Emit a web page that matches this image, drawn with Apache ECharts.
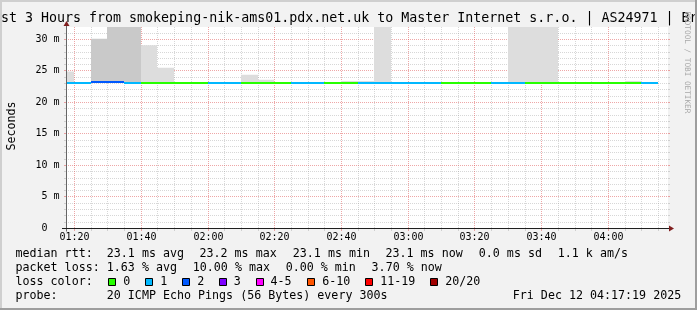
<!DOCTYPE html>
<html>
<head>
<meta charset="utf-8">
<script src="https://cdn.jsdelivr.net/npm/echarts@6/dist/echarts.min.js"></script>
<style>
html,body{margin:0;padding:0;background:#f2f2f2;overflow:hidden}
#chart{width:697px;height:310px}
</style>
</head>
<body>
<div id="chart"></div>
<script>
// ---------------- data ----------------
const titleText = "st 3 Hours from smokeping-nik-ams01.pdx.net.uk to Master Internet s.r.o. | AS24971 | Br";
const yAxisTitle = "Seconds";
const watermark = "RRDTOOL / TOBI OETIKER";

// 5-minute probe intervals (start times)
const intervals = ["01:15","01:20","01:25","01:30","01:35","01:40","01:45","01:50","01:55",
  "02:00","02:05","02:10","02:15","02:20","02:25","02:30","02:35","02:40","02:45","02:50","02:55",
  "03:00","03:05","03:10","03:15","03:20","03:25","03:30","03:35","03:40","03:45","03:50","03:55",
  "04:00","04:05","04:10"];
// median rtt (ms)
const medianMs = [23.1,23.1,23.3,23.2,23.1,23.1,23.1,23.1,23.1,
  23.1,23.1,23.1,23.1,23.1,23.1,23.1,23.1,23.1,23.1,23.1,23.1,
  23.1,23.1,23.1,23.1,23.1,23.1,23.1,23.1,23.1,23.1,23.1,23.1,
  23.1,23.1,23.1];
// lost pings out of 20
const lossCount = [1,1,2,2,1,0,0,0,0,
  1,1,0,0,0,1,1,0,0,1,1,1,
  1,1,0,0,0,1,1,0,0,0,0,0,
  0,0,1];
// smoke (ping spread) upper levels, ms
const smokeDarkTop = [null,null,30.1,36,36,null,null,null,null,
  null,null,null,null,null,null,null,null,null,null,null,null,
  null,null,null,null,null,null,null,null,null,null,null,null,
  null,null,null];
const smokeLightTop = [24.9,null,null,null,null,29.1,25.5,null,null,
  null,null,24.4,23.6,null,null,null,null,23.4,23.4,36,null,
  null,null,null,null,null,null,36,36,36,null,null,null,
  null,23.4,null];

const xMajorTicks = ["01:20","01:40","02:00","02:20","02:40","03:00","03:20","03:40","04:00"];
const xGridTicks = ["01:20","01:25","01:30","01:35","01:40","01:45","01:50","01:55",
  "02:00","02:05","02:10","02:15","02:20","02:25","02:30","02:35","02:40","02:45","02:50","02:55",
  "03:00","03:05","03:10","03:15","03:20","03:25","03:30","03:35","03:40","03:45","03:50","03:55",
  "04:00","04:05","04:10","04:15"];
const yTickValues = [0,5,10,15,20,25,30];
const yTickLabels = [" 0"," 5 m","10 m","15 m","20 m","25 m","30 m"];
const yMinorTicks = [1,2,3,4,6,7,8,9,11,12,13,14,16,17,18,19,21,22,23,24,26,27,28,29,31];

const lossBins = ["0","1","2","3","4-5","6-10","11-19","20/20"];
const lossColors = ["#26ff00","#00b8ff","#0059ff","#7e00ff","#ff00ff","#ff5500","#ff0000","#a10000"];

const rttStats = ["23.1 ms avg","23.2 ms max","23.1 ms min","23.1 ms now","0.0 ms sd","1.1 k am/s"];
const lossStats = ["1.63 % avg","10.00 % max","0.00 % min","3.70 % now"];
const probeText = "20 ICMP Echo Pings (56 Bytes) every 300s";
const dateText = "Fri Dec 12 04:17:19 2025";

// ---------------- layout / style ----------------
const STEP = 5;                    // minutes per probe interval
const X_MIN = 77.453, X_MAX = 257.828;
const Y_MAX = 31.98;
const MONO = '"DejaVu Sans Mono", monospace';
const F_AXIS = '10px ' + MONO;
const F_LEG = '11.67px ' + MONO;
const F_TITLE = '13.3px ' + MONO;
const F_WM = '7.7px ' + MONO;
const C_MINOR = 'rgba(143,143,143,0.36)';
const C_MAJOR = 'rgba(222,79,79,0.5)';
const C_SMOKE_DARK = '#c9c9c9';
const C_SMOKE_LIGHT = '#dddddd';

const toMin = s => { const p = s.split(':'); return (+p[0]) * 60 + (+p[1]); };
const lossIndex = n => n <= 3 ? n : n <= 5 ? 4 : n <= 10 ? 5 : n <= 19 ? 6 : 7;

const majorX = xMajorTicks.map(toMin);
const minorX = xGridTicks.map(toMin).filter(t => majorX.indexOf(t) < 0 && t > X_MIN && t < X_MAX);

function vLine(color) {
  return function (params, api) {
    const cs = params.coordSys;
    const x = Math.floor(api.coord([api.value(0), 0])[0]) + 0.5;
    const bot = cs.y + cs.height;
    return { type: 'group', children: [
      { type: 'line', shape: { x1: x, y1: cs.y, x2: x, y2: bot }, style: { stroke: color, lineWidth: 1, lineDash: [1, 1] } },
      { type: 'line', shape: { x1: x, y1: bot, x2: x, y2: bot + 2.5 }, style: { stroke: color, lineWidth: 1 } }
    ] };
  };
}
function hLine(color) {
  return function (params, api) {
    const cs = params.coordSys;
    const y = Math.floor(api.coord([X_MIN, api.value(1)])[1]) + 0.5;
    return { type: 'group', children: [
      { type: 'line', shape: { x1: cs.x, y1: y, x2: cs.x + cs.width, y2: y }, style: { stroke: color, lineWidth: 1, lineDash: [1, 1] } },
      { type: 'line', shape: { x1: cs.x - 2, y1: y, x2: cs.x, y2: y }, style: { stroke: color, lineWidth: 1 } },
      { type: 'line', shape: { x1: cs.x + cs.width, y1: y, x2: cs.x + cs.width + 2, y2: y }, style: { stroke: color, lineWidth: 1 } }
    ] };
  };
}

const intervalData = intervals.map((s, i) => [toMin(s), medianMs[i],
  smokeDarkTop[i] == null ? NaN : smokeDarkTop[i],
  smokeLightTop[i] == null ? NaN : smokeLightTop[i],
  lossCount[i]]);

const series = [
  { type: 'custom', silent: true, clip: false, data: minorX.map(t => [t, 0]), renderItem: vLine(C_MINOR) },
  { type: 'custom', silent: true, clip: false, data: yMinorTicks.map(v => [X_MIN, v]), renderItem: hLine(C_MINOR) },
  { type: 'custom', silent: true, clip: false, data: majorX.map(t => [t, 0]), renderItem: vLine(C_MAJOR) },
  { type: 'custom', silent: true, clip: false, data: yTickValues.filter(v => v > 0).map(v => [X_MIN, v]), renderItem: hLine(C_MAJOR) },
  // smoke
  { type: 'custom', silent: true, clip: true, data: intervalData, encode: { x: 0, y: 1 },
    renderItem(params, api) {
      const t = api.value(0), med = api.value(1);
      const x0 = Math.round(api.coord([t, 0])[0] - 0.5);
      const x1 = Math.round(api.coord([t + STEP, 0])[0] - 0.5);
      const yMed = api.coord([t, med])[1];
      const kids = [];
      [[api.value(3), C_SMOKE_LIGHT], [api.value(2), C_SMOKE_DARK]].forEach(function (p) {
        const top = p[0];
        if (top == null || isNaN(top)) return;
        const yTop = api.coord([t, top])[1];
        kids.push({ type: 'rect', shape: { x: x0, y: yTop, width: x1 - x0, height: yMed - yTop }, style: { fill: p[1] } });
      });
      return { type: 'group', children: kids };
    } },
  // median line coloured by loss
  { type: 'custom', silent: true, clip: true, data: intervalData, encode: { x: 0, y: 1 },
    renderItem(params, api) {
      const t = api.value(0), med = api.value(1), loss = api.value(4);
      const x0 = Math.round(api.coord([t, 0])[0] - 0.5);
      const x1 = Math.round(api.coord([t + STEP, 0])[0] - 0.5);
      const y = Math.round(api.coord([t, med])[1] - 1);
      return { type: 'rect', shape: { x: x0, y: y, width: x1 - x0, height: 2 }, style: { fill: lossColors[lossIndex(loss)] } };
    } },
  // x tick labels
  { type: 'custom', silent: true, clip: false, data: majorX.map(t => [t, 0]),
    renderItem(params, api) {
      const cs = params.coordSys;
      const x = Math.floor(api.coord([api.value(0), 0])[0]) + 0.5;
      return { type: 'text', x: x, y: cs.y + cs.height + 8.7,
        style: { text: xMajorTicks[params.dataIndex], align: 'center', verticalAlign: 'middle', font: F_AXIS, fill: '#000' } };
    } },
  // y tick labels
  { type: 'custom', silent: true, clip: false, data: yTickValues.map(v => [X_MIN, v]),
    renderItem(params, api) {
      const y = Math.floor(api.coord([X_MIN, api.value(1)])[1]) + 0.5;
      return { type: 'text', x: 35.5, y: y,
        style: { text: yTickLabels[params.dataIndex], align: 'left', verticalAlign: 'middle', font: F_AXIS, fill: '#000' } };
    } },
  // axes + arrows
  { type: 'custom', silent: true, clip: false, data: [[X_MIN, 0]],
    renderItem(params, api) {
      const cs = params.coordSys;
      const x0 = cs.x + 0.5;
      const y0 = Math.floor(api.coord([X_MIN, 0])[1]) + 0.5;
      const xr = cs.x + cs.width;
      return { type: 'group', children: [
        { type: 'line', shape: { x1: x0, y1: cs.y - 1, x2: x0, y2: y0 + 3 }, style: { stroke: '#666', lineWidth: 1 } },
        { type: 'line', shape: { x1: cs.x - 4, y1: y0, x2: xr + 2, y2: y0 }, style: { stroke: '#1f1f1f', lineWidth: 1 } },
        { type: 'polygon', shape: { points: [[x0 - 3, cs.y - 1], [x0 + 3, cs.y - 1], [x0, cs.y - 6]] }, style: { fill: '#801f1f' } },
        { type: 'polygon', shape: { points: [[xr + 1, y0 - 3], [xr + 1, y0 + 3], [xr + 6, y0]] }, style: { fill: '#801f1f' } }
      ] };
    } }
];

// ---------------- graphic texts (title, legend, frame) ----------------
const LEG_X = 16;
const rowY = [254.3, 268.3, 282.3, 296.3];
const rttX = [107.3, 200, 293.3, 386, 479.3, 558.3];
const lossX = [107.3, 193.3, 286.2, 372.1];
const boxX = [108.7, 145.7, 182.7, 219.3, 256, 307.7, 365.7, 430.7];

const g = [];
function txt(text, x, y, font, opt) {
  g.push(Object.assign({ type: 'text', x: x, y: y, silent: true,
    style: { text: text, font: font, fill: '#000', align: 'left', verticalAlign: 'middle' } }, opt || {}));
}
// frame
g.push({ type: 'rect', silent: true, shape: { x: 0, y: 0, width: 697, height: 2 }, style: { fill: '#cfcfcf' } });
g.push({ type: 'rect', silent: true, shape: { x: 0, y: 0, width: 2, height: 310 }, style: { fill: '#cfcfcf' } });
// title
txt(titleText, 1, 18.7, F_TITLE);
// axis title
g.push({ type: 'text', x: 11.5, y: 126, rotation: Math.PI / 2, silent: true,
  style: { text: yAxisTitle, font: F_LEG, fill: '#000', align: 'center', verticalAlign: 'middle' } });
// watermark
g.push({ type: 'text', x: 686.5, y: 62.4, rotation: -Math.PI / 2, silent: true,
  style: { text: watermark, font: F_WM, fill: '#a8a8a8', align: 'center', verticalAlign: 'middle' } });
// legend rows
txt('median rtt:', LEG_X - 0.5, rowY[0], F_LEG);
rttStats.forEach((s, i) => txt(s, rttX[i] - 0.5, rowY[0], F_LEG));
txt('packet loss:', LEG_X - 0.5, rowY[1], F_LEG);
lossStats.forEach((s, i) => txt(s, lossX[i] - 0.5, rowY[1], F_LEG));
txt('loss color:', LEG_X - 0.5, rowY[2], F_LEG);
lossBins.forEach((s, i) => {
  const bx = Math.floor(boxX[i]) + 0.5;
  g.push({ type: 'rect', silent: true, shape: { x: bx, y: Math.floor(rowY[2] - 4) + 0.5, width: 7, height: 7 },
    style: { fill: lossColors[i], stroke: '#000', lineWidth: 1 } });
  txt(s, boxX[i] + 15 - 0.5, rowY[2], F_LEG);
});
txt('probe:', LEG_X - 0.5, rowY[3], F_LEG);
txt(probeText, 107.3 - 0.5, rowY[3], F_LEG);
txt(dateText, 513.3 - 0.5, rowY[3], F_LEG);
// shade B
g.push({ type: 'rect', silent: true, shape: { x: 0, y: 308, width: 697, height: 2 }, style: { fill: '#9e9e9e' } });
g.push({ type: 'rect', silent: true, shape: { x: 695, y: 0, width: 2, height: 310 }, style: { fill: '#9e9e9e' } });

const chart = echarts.init(document.getElementById('chart'), null, { renderer: 'canvas' });
chart.setOption({
  animation: false,
  backgroundColor: '#f2f2f2',
  grid: { left: 66, top: 27, width: 602, height: 201.5, show: true, backgroundColor: '#ffffff', borderWidth: 0 },
  xAxis: { type: 'value', min: X_MIN, max: X_MAX, show: false },
  yAxis: { type: 'value', min: 0, max: Y_MAX, show: false },
  graphic: { elements: g },
  series: series
});
</script>
</body>
</html>
